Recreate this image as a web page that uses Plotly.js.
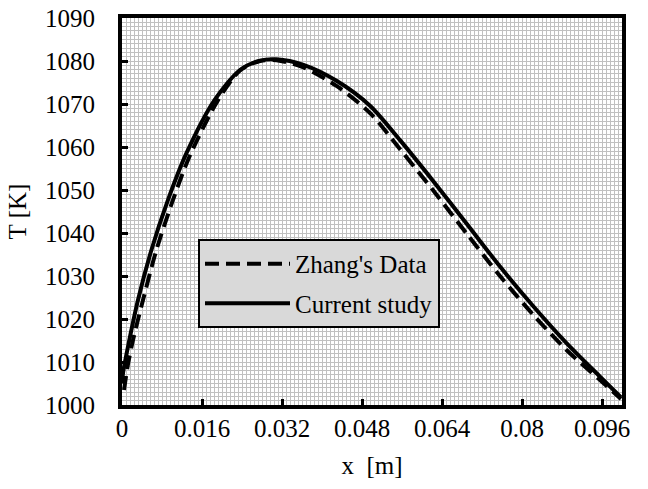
<!DOCTYPE html>
<html>
<head>
<meta charset="utf-8">
<script src="https://cdn.plot.ly/plotly-3.0.1.min.js"></script>
<style>html,body{margin:0;padding:0;background:#fff;}#chart{width:648px;height:489px;}</style>
</head>
<body>
<div id="chart"></div>
<script>
var currentX = [0, 0.0002, 0.00107, 0.0032, 0.00587, 0.0092, 0.01287, 0.0185, 0.0236, 0.0276, 0.0309, 0.0363, 0.0429, 0.0496, 0.0556, 0.0623, 0.0689, 0.0756, 0.0823, 0.0889, 0.0956, 0.0998];
var currentT = [1005, 1007.4, 1012.8, 1024.4, 1036.0, 1047.7, 1058.5, 1070.9, 1077.9, 1080.1, 1080.4, 1079.1, 1075.4, 1069.6, 1061.6, 1052.0, 1042.2, 1032.2, 1022.9, 1014.4, 1006.6, 1001.8];
var zhangX = [0.0004, 0.0012, 0.0022, 0.0042, 0.00687, 0.0102, 0.0135, 0.0190, 0.0236, 0.0276, 0.0309, 0.0363, 0.0429, 0.0496, 0.0556, 0.0623, 0.0689, 0.0756, 0.0823, 0.0889, 0.0956, 0.0998];
var zhangT = [1003.5, 1009.5, 1015.1, 1024.4, 1036.0, 1047.7, 1057.8, 1070.5, 1077.8, 1080.0, 1080.2, 1078.5, 1074.2, 1067.9, 1059.5, 1049.8, 1039.9, 1030.0, 1020.9, 1012.8, 1005.8, 1001.4];
var xTicks = [0, 0.016, 0.032, 0.048, 0.064, 0.08, 0.096];
var xTickText = ['0', '0.016', '0.032', '0.048', '0.064', '0.08', '0.096'];
var yTicks = [1000, 1010, 1020, 1030, 1040, 1050, 1060, 1070, 1080, 1090];

var font = {family: 'Liberation Serif, Times New Roman, serif', size: 25, color: '#000'};

var traces = [
  {x: zhangX, y: zhangT, mode: 'lines', name: "Zhang's Data", legendgroup: 'a', line: {color: '#000', width: 4, dash: '14px,7px', shape: 'spline', smoothing: 0.8}},
  {x: currentX, y: currentT, mode: 'lines', name: 'Current study', legendgroup: 'b', line: {color: '#000', width: 4, shape: 'spline', smoothing: 0.8}}
];

var layout = {
  width: 648, height: 489,
  margin: {l: 122, r: 26, t: 18, b: 84},
  paper_bgcolor: '#fff', plot_bgcolor: '#fff',
  font: font,
  showlegend: true,
  legend: {x: 0.152, y: 0.429, xanchor: 'left', yanchor: 'top', bgcolor: '#d9d9d9', bordercolor: '#000', borderwidth: 2, font: font, itemwidth: 85, tracegroupgap: 4, entrywidth: 250},
  xaxis: {
    range: [0, 0.1], tickvals: xTicks, ticktext: xTickText,
    ticks: 'inside', ticklen: 6, tickwidth: 3, tickcolor: '#000',
    showline: true, linewidth: 4, linecolor: '#000', mirror: true,
    showgrid: true, gridcolor: '#c0c0c0', gridwidth: 1, zeroline: false,
    minor: {dtick: 0.0008, tick0: 0, showgrid: true, gridcolor: '#c0c0c0', gridwidth: 1, ticks: ''},
    ticklabelstandoff: -2,
    title: {text: 'x  [m]', font: font, standoff: 16},
    tickfont: font
  },
  yaxis: {
    range: [1000, 1090], tickvals: yTicks,
    ticks: 'inside', ticklen: 6, tickwidth: 3, tickcolor: '#000',
    showline: true, linewidth: 4, linecolor: '#000', mirror: true,
    showgrid: true, gridcolor: '#c0c0c0', gridwidth: 1, zeroline: false,
    minor: {dtick: 1, tick0: 1000, showgrid: true, gridcolor: '#c0c0c0', gridwidth: 1, ticks: ''},
    ticklabelstandoff: 18,
    title: {text: 'T [K]', font: font, standoff: 12},
    tickfont: font
  }
};

Plotly.newPlot('chart', traces, layout, {displayModeBar: false, staticPlot: true});
</script>
</body>
</html>
